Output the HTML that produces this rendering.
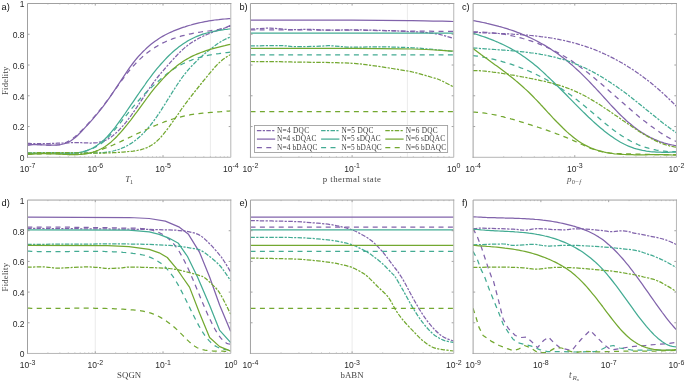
<!DOCTYPE html>
<html lang="en"><head><meta charset="utf-8"><title>Fidelity plots</title>
<style>html,body{margin:0;padding:0;background:#fff}body{width:685px;height:382px;overflow:hidden}svg{display:block}</style>
</head><body>
<svg width="685" height="382" viewBox="0 0 685 382">
<rect width="685" height="382" fill="#fff"/>
<g id="p0">
<line x1="210.40" y1="3.5" x2="210.40" y2="157.3" stroke="#e6e6e6" stroke-width="0.8"/>
<clipPath id="c0"><rect x="27.5" y="3.5" width="203.30" height="153.80"/></clipPath>
<g clip-path="url(#c0)" fill="none" stroke-width="1.25" stroke-linejoin="round">
<path d="M27.4,143.3 L29.4,143.4 L31.4,143.5 L33.4,143.6 L35.4,143.6 L37.4,143.6 L39.4,143.6 L41.4,143.6 L43.4,143.6 L45.3,143.6 L47.3,143.5 L49.3,143.5 L51.3,143.4 L53.3,143.3 L55.3,143.3 L57.3,143.2 L59.3,143.1 L61.3,143.0 L63.3,143.0 L65.3,142.9 L67.3,142.8 L69.3,142.8 L71.3,142.7 L73.3,142.7 L75.3,142.7 L77.3,142.7 L79.2,142.7 L81.2,142.7 L83.2,142.8 L85.2,142.9 L87.2,142.9 L89.2,143.0 L91.2,143.0 L93.2,142.9 L95.2,142.8 L97.2,142.6 L99.2,142.2 L101.2,141.8 L103.2,141.2 L105.2,140.4 L107.2,139.5 L109.2,138.3 L111.2,137.0 L113.1,135.5 L115.1,133.8 L117.1,132.0 L119.1,130.0 L121.1,127.9 L123.1,125.7 L125.1,123.3 L127.1,120.8 L129.1,118.2 L131.1,115.5 L133.1,112.7 L135.1,109.8 L137.1,106.9 L139.1,103.9 L141.1,100.9 L143.1,97.9 L145.1,94.8 L147.0,91.9 L149.0,88.9 L151.0,86.1 L153.0,83.3 L155.0,80.6 L157.0,78.0 L159.0,75.5 L161.0,73.1 L163.0,70.8 L165.0,68.5 L167.0,66.2 L169.0,64.0 L171.0,61.7 L173.0,59.5 L175.0,57.3 L177.0,55.2 L179.0,53.1 L180.9,51.2 L182.9,49.4 L184.9,47.6 L186.9,46.0 L188.9,44.5 L190.9,43.1 L192.9,41.8 L194.9,40.6 L196.9,39.4 L198.9,38.3 L200.9,37.3 L202.9,36.3 L204.9,35.4 L206.9,34.5 L208.9,33.7 L210.9,32.9 L212.9,32.2 L214.8,31.5 L216.8,30.7 L218.8,30.1 L220.8,29.4 L222.8,28.7 L224.8,28.0 L226.8,27.3 L228.8,26.6 L230.8,25.9" stroke="#8163ab" stroke-dasharray="4.5 1.35 2.2 1.35"/>
<path d="M27.4,145.1 L29.4,144.9 L31.4,144.7 L33.4,144.7 L35.4,144.7 L37.4,144.7 L39.4,144.7 L41.4,144.8 L43.4,144.9 L45.3,145.0 L47.3,145.1 L49.3,145.2 L51.3,145.2 L53.3,145.2 L55.3,145.1 L57.3,145.0 L59.3,144.8 L61.3,144.5 L63.3,144.0 L65.3,143.4 L67.3,142.7 L69.3,141.7 L71.3,140.5 L73.3,139.1 L75.3,137.5 L77.3,135.7 L79.2,133.7 L81.2,131.7 L83.2,129.6 L85.2,127.4 L87.2,125.3 L89.2,123.1 L91.2,120.9 L93.2,118.6 L95.2,116.2 L97.2,113.8 L99.2,111.4 L101.2,108.9 L103.2,106.3 L105.2,103.6 L107.2,100.9 L109.2,98.1 L111.2,95.2 L113.1,92.3 L115.1,89.4 L117.1,86.4 L119.1,83.4 L121.1,80.3 L123.1,77.3 L125.1,74.3 L127.1,71.3 L129.1,68.4 L131.1,65.6 L133.1,63.0 L135.1,60.4 L137.1,58.0 L139.1,55.7 L141.1,53.6 L143.1,51.5 L145.1,49.6 L147.0,47.7 L149.0,46.0 L151.0,44.3 L153.0,42.7 L155.0,41.3 L157.0,39.9 L159.0,38.5 L161.0,37.3 L163.0,36.1 L165.0,35.0 L167.0,34.0 L169.0,33.0 L171.0,32.1 L173.0,31.2 L175.0,30.4 L177.0,29.6 L179.0,28.8 L180.9,28.1 L182.9,27.4 L184.9,26.8 L186.9,26.1 L188.9,25.5 L190.9,25.0 L192.9,24.4 L194.9,23.9 L196.9,23.4 L198.9,22.9 L200.9,22.5 L202.9,22.1 L204.9,21.7 L206.9,21.3 L208.9,20.9 L210.9,20.6 L212.9,20.3 L214.8,20.0 L216.8,19.8 L218.8,19.6 L220.8,19.3 L222.8,19.1 L224.8,19.0 L226.8,18.8 L228.8,18.7 L230.8,18.6" stroke="#8163ab"/>
<path d="M27.4,145.1 L29.4,144.9 L31.4,144.7 L33.4,144.6 L35.4,144.6 L37.4,144.6 L39.4,144.7 L41.4,144.7 L43.4,144.9 L45.3,145.0 L47.3,145.1 L49.3,145.2 L51.3,145.2 L53.3,145.2 L55.3,145.1 L57.3,144.9 L59.3,144.6 L61.3,144.1 L63.3,143.5 L65.3,142.8 L67.3,141.9 L69.3,140.8 L71.3,139.5 L73.3,138.1 L75.3,136.5 L77.3,134.7 L79.2,132.9 L81.2,130.9 L83.2,128.9 L85.2,126.8 L87.2,124.7 L89.2,122.5 L91.2,120.3 L93.2,118.0 L95.2,115.7 L97.2,113.3 L99.2,110.8 L101.2,108.4 L103.2,105.8 L105.2,103.2 L107.2,100.6 L109.2,97.9 L111.2,95.1 L113.1,92.4 L115.1,89.6 L117.1,86.8 L119.1,84.1 L121.1,81.3 L123.1,78.6 L125.1,76.0 L127.1,73.4 L129.1,70.9 L131.1,68.5 L133.1,66.2 L135.1,64.1 L137.1,62.0 L139.1,60.0 L141.1,58.1 L143.1,56.3 L145.1,54.6 L147.0,53.0 L149.0,51.5 L151.0,50.0 L153.0,48.7 L155.0,47.4 L157.0,46.2 L159.0,45.0 L161.0,44.0 L163.0,42.9 L165.0,42.0 L167.0,41.1 L169.0,40.3 L171.0,39.5 L173.0,38.7 L175.0,38.0 L177.0,37.4 L179.0,36.8 L180.9,36.2 L182.9,35.7 L184.9,35.2 L186.9,34.7 L188.9,34.2 L190.9,33.8 L192.9,33.4 L194.9,33.0 L196.9,32.7 L198.9,32.3 L200.9,32.0 L202.9,31.7 L204.9,31.5 L206.9,31.2 L208.9,31.0 L210.9,30.7 L212.9,30.4 L214.8,30.1 L216.8,29.8 L218.8,29.4 L220.8,28.9 L222.8,28.4 L224.8,27.7 L226.8,27.0 L228.8,26.1 L230.8,25.1" stroke="#8163ab" stroke-dasharray="5 4.4"/>
<path d="M27.4,153.1 L29.4,153.1 L31.4,153.2 L33.4,153.2 L35.4,153.3 L37.4,153.3 L39.4,153.3 L41.4,153.3 L43.4,153.3 L45.3,153.3 L47.3,153.2 L49.3,153.2 L51.3,153.2 L53.3,153.2 L55.3,153.1 L57.3,153.1 L59.3,153.1 L61.3,153.0 L63.3,153.0 L65.3,153.0 L67.3,152.9 L69.3,152.9 L71.3,152.9 L73.3,152.9 L75.3,152.9 L77.3,152.8 L79.2,152.8 L81.2,152.9 L83.2,152.9 L85.2,152.9 L87.2,152.9 L89.2,152.9 L91.2,152.9 L93.2,152.9 L95.2,152.9 L97.2,152.9 L99.2,152.8 L101.2,152.7 L103.2,152.5 L105.2,152.3 L107.2,152.1 L109.2,151.8 L111.2,151.4 L113.1,151.0 L115.1,150.5 L117.1,149.9 L119.1,149.3 L121.1,148.5 L123.1,147.7 L125.1,146.8 L127.1,145.8 L129.1,144.6 L131.1,143.4 L133.1,142.1 L135.1,140.6 L137.1,139.0 L139.1,137.3 L141.1,135.5 L143.1,133.5 L145.1,131.4 L147.0,129.2 L149.0,126.9 L151.0,124.5 L153.0,121.9 L155.0,119.2 L157.0,116.4 L159.0,113.4 L161.0,110.4 L163.0,107.2 L165.0,104.1 L167.0,100.8 L169.0,97.6 L171.0,94.4 L173.0,91.2 L175.0,88.1 L177.0,85.0 L179.0,82.0 L180.9,79.2 L182.9,76.5 L184.9,73.9 L186.9,71.4 L188.9,69.1 L190.9,66.9 L192.9,64.8 L194.9,62.7 L196.9,60.8 L198.9,58.9 L200.9,57.1 L202.9,55.3 L204.9,53.6 L206.9,51.9 L208.9,50.3 L210.9,48.7 L212.9,47.2 L214.8,45.7 L216.8,44.3 L218.8,42.9 L220.8,41.7 L222.8,40.5 L224.8,39.5 L226.8,38.5 L228.8,37.7 L230.8,37.0" stroke="#43ab93" stroke-dasharray="4.5 1.35 2.2 1.35"/>
<path d="M27.4,153.3 L29.4,153.3 L31.4,153.3 L33.4,153.2 L35.4,153.2 L37.4,153.1 L39.4,153.1 L41.4,153.0 L43.4,153.0 L45.3,153.0 L47.3,152.9 L49.3,152.9 L51.3,152.9 L53.3,152.9 L55.3,152.9 L57.3,152.9 L59.3,153.0 L61.3,153.1 L63.3,153.1 L65.3,153.2 L67.3,153.2 L69.3,153.2 L71.3,153.2 L73.3,153.1 L75.3,153.0 L77.3,152.8 L79.2,152.5 L81.2,152.1 L83.2,151.7 L85.2,151.1 L87.2,150.4 L89.2,149.6 L91.2,148.7 L93.2,147.7 L95.2,146.5 L97.2,145.2 L99.2,143.8 L101.2,142.3 L103.2,140.6 L105.2,138.7 L107.2,136.7 L109.2,134.5 L111.2,132.2 L113.1,129.8 L115.1,127.3 L117.1,124.6 L119.1,121.9 L121.1,119.2 L123.1,116.3 L125.1,113.5 L127.1,110.5 L129.1,107.6 L131.1,104.7 L133.1,101.8 L135.1,98.8 L137.1,95.9 L139.1,93.0 L141.1,90.1 L143.1,87.3 L145.1,84.5 L147.0,81.7 L149.0,79.0 L151.0,76.3 L153.0,73.7 L155.0,71.2 L157.0,68.7 L159.0,66.3 L161.0,64.0 L163.0,61.8 L165.0,59.6 L167.0,57.5 L169.0,55.5 L171.0,53.6 L173.0,51.8 L175.0,50.1 L177.0,48.4 L179.0,46.8 L180.9,45.4 L182.9,44.0 L184.9,42.7 L186.9,41.4 L188.9,40.3 L190.9,39.2 L192.9,38.2 L194.9,37.3 L196.9,36.4 L198.9,35.6 L200.9,34.9 L202.9,34.2 L204.9,33.6 L206.9,33.0 L208.9,32.5 L210.9,32.0 L212.9,31.6 L214.8,31.1 L216.8,30.8 L218.8,30.4 L220.8,30.1 L222.8,29.8 L224.8,29.5 L226.8,29.3 L228.8,29.0 L230.8,28.8" stroke="#43ab93"/>
<path d="M27.4,153.1 L29.4,153.2 L31.4,153.3 L33.4,153.3 L35.4,153.3 L37.4,153.3 L39.4,153.2 L41.4,153.2 L43.4,153.2 L45.3,153.1 L47.3,153.1 L49.3,153.0 L51.3,153.0 L53.3,152.9 L55.3,152.9 L57.3,152.9 L59.3,152.9 L61.3,152.9 L63.3,153.0 L65.3,153.0 L67.3,153.0 L69.3,153.0 L71.3,153.0 L73.3,152.9 L75.3,152.8 L77.3,152.6 L79.2,152.4 L81.2,152.1 L83.2,151.7 L85.2,151.2 L87.2,150.6 L89.2,150.0 L91.2,149.2 L93.2,148.3 L95.2,147.3 L97.2,146.2 L99.2,144.9 L101.2,143.5 L103.2,141.9 L105.2,140.2 L107.2,138.3 L109.2,136.2 L111.2,134.0 L113.1,131.7 L115.1,129.3 L117.1,126.9 L119.1,124.3 L121.1,121.8 L123.1,119.3 L125.1,116.8 L127.1,114.3 L129.1,111.8 L131.1,109.3 L133.1,106.9 L135.1,104.6 L137.1,102.2 L139.1,100.0 L141.1,97.7 L143.1,95.6 L145.1,93.5 L147.0,91.5 L149.0,89.6 L151.0,87.7 L153.0,85.9 L155.0,84.1 L157.0,82.3 L159.0,80.6 L161.0,78.8 L163.0,77.1 L165.0,75.4 L167.0,73.8 L169.0,72.3 L171.0,70.8 L173.0,69.4 L175.0,68.1 L177.0,66.9 L179.0,65.8 L180.9,64.7 L182.9,63.7 L184.9,62.8 L186.9,61.9 L188.9,61.0 L190.9,60.3 L192.9,59.5 L194.9,58.9 L196.9,58.2 L198.9,57.6 L200.9,57.1 L202.9,56.6 L204.9,56.1 L206.9,55.6 L208.9,55.2 L210.9,54.8 L212.9,54.5 L214.8,54.2 L216.8,53.8 L218.8,53.6 L220.8,53.3 L222.8,53.0 L224.8,52.8 L226.8,52.6 L228.8,52.3 L230.8,52.1" stroke="#43ab93" stroke-dasharray="5 4.4"/>
<path d="M27.4,153.2 L29.4,153.1 L31.4,153.0 L33.4,152.9 L35.4,152.8 L37.4,152.7 L39.4,152.7 L41.4,152.6 L43.4,152.6 L45.3,152.6 L47.3,152.6 L49.3,152.5 L51.3,152.5 L53.3,152.6 L55.3,152.6 L57.3,152.6 L59.3,152.6 L61.3,152.6 L63.3,152.7 L65.3,152.7 L67.3,152.7 L69.3,152.8 L71.3,152.8 L73.3,152.8 L75.3,152.9 L77.3,152.9 L79.2,153.0 L81.2,153.0 L83.2,153.0 L85.2,153.0 L87.2,153.1 L89.2,153.1 L91.2,153.1 L93.2,153.1 L95.2,153.1 L97.2,153.1 L99.2,153.1 L101.2,153.1 L103.2,153.0 L105.2,153.0 L107.2,152.9 L109.2,152.9 L111.2,152.8 L113.1,152.7 L115.1,152.6 L117.1,152.5 L119.1,152.4 L121.1,152.2 L123.1,152.1 L125.1,151.9 L127.1,151.7 L129.1,151.5 L131.1,151.3 L133.1,151.1 L135.1,150.8 L137.1,150.5 L139.1,150.1 L141.1,149.6 L143.1,149.0 L145.1,148.4 L147.0,147.6 L149.0,146.6 L151.0,145.5 L153.0,144.2 L155.0,142.7 L157.0,141.0 L159.0,139.1 L161.0,137.0 L163.0,134.7 L165.0,132.2 L167.0,129.7 L169.0,127.0 L171.0,124.2 L173.0,121.4 L175.0,118.6 L177.0,115.7 L179.0,112.9 L180.9,110.0 L182.9,107.2 L184.9,104.5 L186.9,101.8 L188.9,99.2 L190.9,96.6 L192.9,94.0 L194.9,91.5 L196.9,89.0 L198.9,86.5 L200.9,84.0 L202.9,81.5 L204.9,79.1 L206.9,76.6 L208.9,74.2 L210.9,71.8 L212.9,69.5 L214.8,67.2 L216.8,65.1 L218.8,63.1 L220.8,61.3 L222.8,59.6 L224.8,58.1 L226.8,56.7 L228.8,55.5 L230.8,54.5" stroke="#73a830" stroke-dasharray="4.5 1.35 2.2 1.35"/>
<path d="M27.4,154.5 L29.4,154.3 L31.4,154.2 L33.4,154.1 L35.4,153.9 L37.4,153.9 L39.4,153.8 L41.4,153.7 L43.4,153.7 L45.3,153.7 L47.3,153.7 L49.3,153.7 L51.3,153.8 L53.3,153.8 L55.3,153.9 L57.3,154.0 L59.3,154.1 L61.3,154.2 L63.3,154.3 L65.3,154.4 L67.3,154.5 L69.3,154.5 L71.3,154.6 L73.3,154.6 L75.3,154.6 L77.3,154.6 L79.2,154.5 L81.2,154.4 L83.2,154.2 L85.2,153.9 L87.2,153.6 L89.2,153.2 L91.2,152.7 L93.2,152.2 L95.2,151.5 L97.2,150.7 L99.2,149.8 L101.2,148.8 L103.2,147.7 L105.2,146.5 L107.2,145.1 L109.2,143.5 L111.2,141.9 L113.1,140.1 L115.1,138.2 L117.1,136.2 L119.1,134.0 L121.1,131.8 L123.1,129.5 L125.1,127.1 L127.1,124.7 L129.1,122.1 L131.1,119.6 L133.1,116.9 L135.1,114.2 L137.1,111.6 L139.1,108.8 L141.1,106.1 L143.1,103.4 L145.1,100.7 L147.0,98.0 L149.0,95.3 L151.0,92.7 L153.0,90.2 L155.0,87.7 L157.0,85.3 L159.0,83.0 L161.0,80.8 L163.0,78.6 L165.0,76.5 L167.0,74.6 L169.0,72.6 L171.0,70.8 L173.0,69.1 L175.0,67.4 L177.0,65.8 L179.0,64.3 L180.9,62.9 L182.9,61.6 L184.9,60.3 L186.9,59.1 L188.9,58.0 L190.9,56.9 L192.9,55.9 L194.9,55.0 L196.9,54.1 L198.9,53.3 L200.9,52.5 L202.9,51.8 L204.9,51.1 L206.9,50.4 L208.9,49.8 L210.9,49.2 L212.9,48.6 L214.8,48.1 L216.8,47.6 L218.8,47.1 L220.8,46.6 L222.8,46.1 L224.8,45.7 L226.8,45.2 L228.8,44.7 L230.8,44.3" stroke="#73a830"/>
<path d="M27.4,154.4 L29.4,154.2 L31.4,154.2 L33.4,154.1 L35.4,154.0 L37.4,153.9 L39.4,153.9 L41.4,153.8 L43.3,153.8 L45.3,153.8 L47.3,153.8 L49.3,153.8 L51.3,153.8 L53.3,153.8 L55.3,153.9 L57.3,153.9 L59.3,154.0 L61.3,154.1 L63.3,154.2 L65.3,154.3 L67.3,154.4 L69.3,154.5 L71.2,154.5 L73.2,154.5 L75.2,154.5 L77.2,154.4 L79.2,154.3 L81.2,154.2 L83.2,154.0 L85.2,153.7 L87.2,153.4 L89.2,153.0 L91.2,152.5 L93.2,152.0 L95.2,151.5 L97.2,150.9 L99.2,150.3 L101.1,149.6 L103.1,148.9 L105.1,148.2 L107.1,147.4 L109.1,146.6 L111.1,145.8 L113.1,145.0 L115.1,144.1 L117.1,143.2 L119.1,142.3 L121.1,141.4 L123.1,140.4 L125.1,139.5 L127.1,138.6 L129.0,137.6 L131.0,136.7 L133.0,135.7 L135.0,134.7 L137.0,133.8 L139.0,132.9 L141.0,131.9 L143.0,131.0 L145.0,130.1 L147.0,129.2 L149.0,128.3 L151.0,127.4 L153.0,126.5 L155.0,125.7 L157.0,124.8 L158.9,124.0 L160.9,123.2 L162.9,122.5 L164.9,121.7 L166.9,121.0 L168.9,120.3 L170.9,119.6 L172.9,119.0 L174.9,118.4 L176.9,117.8 L178.9,117.3 L180.9,116.8 L182.9,116.3 L184.9,115.8 L186.9,115.4 L188.8,115.1 L190.8,114.7 L192.8,114.4 L194.8,114.1 L196.8,113.8 L198.8,113.6 L200.8,113.3 L202.8,113.1 L204.8,112.9 L206.8,112.8 L208.8,112.6 L210.8,112.4 L212.8,112.3 L214.8,112.1 L216.7,112.0 L218.7,111.8 L220.7,111.7 L222.7,111.5 L224.7,111.4 L226.7,111.2 L228.7,111.1 L230.7,110.9" stroke="#73a830" stroke-dasharray="5 4.4"/>
</g>
<path d="M95.27,157.3 v-2.1 M95.27,3.5 v2.1 M163.03,157.3 v-2.1 M163.03,3.5 v2.1 M27.5,126.54 h2.1 M230.8,126.54 h-2.1 M27.5,95.78 h2.1 M230.8,95.78 h-2.1 M27.5,65.02 h2.1 M230.8,65.02 h-2.1 M27.5,34.26 h2.1 M230.8,34.26 h-2.1" stroke="#8c8c8c" stroke-width="0.8" fill="none"/>
<path d="M47.90,157.3 v-1.1 M47.90,3.5 v1.1 M59.83,157.3 v-1.1 M59.83,3.5 v1.1 M68.30,157.3 v-1.1 M68.30,3.5 v1.1 M74.87,157.3 v-1.1 M74.87,3.5 v1.1 M80.23,157.3 v-1.1 M80.23,3.5 v1.1 M84.77,157.3 v-1.1 M84.77,3.5 v1.1 M88.70,157.3 v-1.1 M88.70,3.5 v1.1 M92.17,157.3 v-1.1 M92.17,3.5 v1.1 M115.67,157.3 v-1.1 M115.67,3.5 v1.1 M127.60,157.3 v-1.1 M127.60,3.5 v1.1 M136.07,157.3 v-1.1 M136.07,3.5 v1.1 M142.63,157.3 v-1.1 M142.63,3.5 v1.1 M148.00,157.3 v-1.1 M148.00,3.5 v1.1 M152.54,157.3 v-1.1 M152.54,3.5 v1.1 M156.47,157.3 v-1.1 M156.47,3.5 v1.1 M159.93,157.3 v-1.1 M159.93,3.5 v1.1 M183.43,157.3 v-1.1 M183.43,3.5 v1.1 M195.37,157.3 v-1.1 M195.37,3.5 v1.1 M203.83,157.3 v-1.1 M203.83,3.5 v1.1 M210.40,157.3 v-1.1 M210.40,3.5 v1.1 M215.77,157.3 v-1.1 M215.77,3.5 v1.1 M220.30,157.3 v-1.1 M220.30,3.5 v1.1 M224.23,157.3 v-1.1 M224.23,3.5 v1.1 M227.70,157.3 v-1.1 M227.70,3.5 v1.1" stroke="#a4a4a4" stroke-width="0.6" fill="none"/>
<path d="M230.8,3.5 V157.3 H27.5" fill="none" stroke="#b6b6b6" stroke-width="1" stroke-linecap="square"/>
<path d="M27.5,157.3 V3.5 H230.8" fill="none" stroke="#a0a0a0" stroke-width="1" stroke-linecap="square"/>
<text x="19.66" y="172.30" font-family="'Liberation Sans',Arial,Helvetica,sans-serif" font-size="8.5" fill="#2a2a2a">10<tspan dy="-3.9" font-size="7">-7</tspan></text>
<text x="87.43" y="172.30" font-family="'Liberation Sans',Arial,Helvetica,sans-serif" font-size="8.5" fill="#2a2a2a">10<tspan dy="-3.9" font-size="7">-6</tspan></text>
<text x="155.20" y="172.30" font-family="'Liberation Sans',Arial,Helvetica,sans-serif" font-size="8.5" fill="#2a2a2a">10<tspan dy="-3.9" font-size="7">-5</tspan></text>
<text x="222.96" y="172.30" font-family="'Liberation Sans',Arial,Helvetica,sans-serif" font-size="8.5" fill="#2a2a2a">10<tspan dy="-3.9" font-size="7">-4</tspan></text>
<text x="24.5" y="161.15" text-anchor="end" font-family="'Liberation Sans',Arial,Helvetica,sans-serif" font-size="8.5" fill="#2a2a2a">0</text>
<text x="24.5" y="130.39" text-anchor="end" font-family="'Liberation Sans',Arial,Helvetica,sans-serif" font-size="8.5" fill="#2a2a2a">0.2</text>
<text x="24.5" y="99.63" text-anchor="end" font-family="'Liberation Sans',Arial,Helvetica,sans-serif" font-size="8.5" fill="#2a2a2a">0.4</text>
<text x="24.5" y="68.87" text-anchor="end" font-family="'Liberation Sans',Arial,Helvetica,sans-serif" font-size="8.5" fill="#2a2a2a">0.6</text>
<text x="24.5" y="38.11" text-anchor="end" font-family="'Liberation Sans',Arial,Helvetica,sans-serif" font-size="8.5" fill="#2a2a2a">0.8</text>
<text x="24.5" y="7.35" text-anchor="end" font-family="'Liberation Sans',Arial,Helvetica,sans-serif" font-size="8.5" fill="#2a2a2a">1</text>
<text transform="translate(7.8,80.70) rotate(-90)" text-anchor="middle" font-family="'Liberation Serif','Times New Roman',serif" font-size="8.8" letter-spacing="0.16" fill="#444">Fidelity</text>
<text x="1.6" y="9.55" font-family="'Liberation Sans',Arial,Helvetica,sans-serif" font-size="9.2" fill="#111">a)</text>
<text x="125.25" y="182.00" font-family="'Liberation Serif','Times New Roman',serif" font-size="8.8" font-style="italic" fill="#444">T<tspan dx="-0.2" dy="2" font-size="6" font-style="normal">1</tspan></text>
</g>
<g id="p1">
<line x1="407.40" y1="3.5" x2="407.40" y2="157.3" stroke="#e6e6e6" stroke-width="0.8"/>
<clipPath id="c1"><rect x="250.45" y="3.5" width="203.30" height="153.80"/></clipPath>
<g clip-path="url(#c1)" fill="none" stroke-width="1.25" stroke-linejoin="round">
<path d="M250.5,29.2 C253.8,29.0 263.4,28.1 270.0,28.2 C276.6,28.3 283.3,29.4 290.0,29.6 C296.7,29.8 303.3,29.3 310.0,29.4 C316.7,29.5 323.0,30.1 330.0,30.2 C337.0,30.3 343.7,29.8 352.0,29.8 C360.3,29.8 371.6,30.2 380.0,30.4 C388.4,30.6 393.6,30.7 402.4,31.2 C411.2,31.7 424.1,32.0 432.6,33.2 C441.2,34.4 450.2,37.4 453.7,38.3" stroke="#8163ab" stroke-dasharray="4.5 1.35 2.2 1.35"/>
<path d="M250.5,20.1 C267.4,20.1 325.1,20.0 352.0,20.1 C378.9,20.2 395.1,20.4 412.0,20.6 C428.9,20.8 446.8,21.4 453.7,21.5" stroke="#8163ab"/>
<path d="M250.5,29.8 C267.4,29.9 327.1,30.0 352.0,30.2 C376.9,30.4 383.1,30.8 400.0,31.0 C416.9,31.2 444.8,31.3 453.7,31.4" stroke="#8163ab" stroke-dasharray="5 4.4"/>
<path d="M250.5,45.9 C255.4,45.9 272.6,45.5 280.0,45.6 C287.4,45.7 288.3,46.5 295.0,46.6 C301.7,46.7 314.2,46.4 320.0,46.2 C325.8,46.1 324.7,45.5 330.0,45.7 C335.3,45.9 343.7,47.0 352.0,47.2 C360.3,47.4 369.9,46.7 380.0,46.8 C390.1,46.9 404.2,47.4 412.5,47.8 C420.8,48.2 423.1,48.6 430.0,49.2 C436.9,49.8 449.8,51.0 453.7,51.4" stroke="#43ab93" stroke-dasharray="4.5 1.35 2.2 1.35"/>
<path d="M250.5,33.2 L453.7,33.2" stroke="#43ab93"/>
<path d="M250.5,54.8 L453.7,54.8" stroke="#43ab93" stroke-dasharray="5 4.4"/>
<path d="M250.5,61.5 C255.4,61.5 271.8,61.6 280.0,61.7 C288.2,61.8 292.5,62.1 300.0,62.2 C307.5,62.3 316.3,62.2 325.0,62.4 C333.7,62.6 344.1,62.8 352.0,63.3 C359.9,63.8 365.5,64.6 372.2,65.5 C378.9,66.4 385.6,67.4 392.3,68.5 C399.0,69.6 405.8,70.5 412.5,72.0 C419.2,73.5 428.0,76.3 432.6,77.6 C437.2,78.9 436.5,78.4 440.0,80.0 C443.5,81.6 451.4,85.8 453.7,87.0" stroke="#73a830" stroke-dasharray="4.5 1.35 2.2 1.35"/>
<path d="M250.5,48.4 C267.4,48.4 325.0,48.3 352.0,48.4 C379.0,48.5 395.6,48.6 412.5,49.0 C429.4,49.4 446.8,50.7 453.7,51.0" stroke="#73a830"/>
<path d="M250.5,111.7 L453.7,111.7" stroke="#73a830" stroke-dasharray="5 4.4"/>
</g>
<path d="M352.10,157.3 v-2.1 M352.10,3.5 v2.1 M250.45,126.54 h2.1 M453.75,126.54 h-2.1 M250.45,95.78 h2.1 M453.75,95.78 h-2.1 M250.45,65.02 h2.1 M453.75,65.02 h-2.1 M250.45,34.26 h2.1 M453.75,34.26 h-2.1" stroke="#8c8c8c" stroke-width="0.8" fill="none"/>
<path d="M281.05,157.3 v-1.1 M281.05,3.5 v1.1 M298.95,157.3 v-1.1 M298.95,3.5 v1.1 M311.65,157.3 v-1.1 M311.65,3.5 v1.1 M321.50,157.3 v-1.1 M321.50,3.5 v1.1 M329.55,157.3 v-1.1 M329.55,3.5 v1.1 M336.35,157.3 v-1.1 M336.35,3.5 v1.1 M342.25,157.3 v-1.1 M342.25,3.5 v1.1 M347.45,157.3 v-1.1 M347.45,3.5 v1.1 M382.70,157.3 v-1.1 M382.70,3.5 v1.1 M400.60,157.3 v-1.1 M400.60,3.5 v1.1 M413.30,157.3 v-1.1 M413.30,3.5 v1.1 M423.15,157.3 v-1.1 M423.15,3.5 v1.1 M431.20,157.3 v-1.1 M431.20,3.5 v1.1 M438.00,157.3 v-1.1 M438.00,3.5 v1.1 M443.90,157.3 v-1.1 M443.90,3.5 v1.1 M449.10,157.3 v-1.1 M449.10,3.5 v1.1" stroke="#a4a4a4" stroke-width="0.6" fill="none"/>
<path d="M453.75,3.5 V157.3 H250.45" fill="none" stroke="#b6b6b6" stroke-width="1" stroke-linecap="square"/>
<path d="M250.45,157.3 V3.5 H453.75" fill="none" stroke="#a0a0a0" stroke-width="1" stroke-linecap="square"/>
<text x="242.61" y="172.30" font-family="'Liberation Sans',Arial,Helvetica,sans-serif" font-size="8.5" fill="#2a2a2a">10<tspan dy="-3.9" font-size="7">-2</tspan></text>
<text x="344.26" y="172.30" font-family="'Liberation Sans',Arial,Helvetica,sans-serif" font-size="8.5" fill="#2a2a2a">10<tspan dy="-3.9" font-size="7">-1</tspan></text>
<text x="447.08" y="172.30" font-family="'Liberation Sans',Arial,Helvetica,sans-serif" font-size="8.5" fill="#2a2a2a">10<tspan dy="-3.9" font-size="7">0</tspan></text>
<text x="239.5" y="9.55" font-family="'Liberation Sans',Arial,Helvetica,sans-serif" font-size="9.2" fill="#111">b)</text>
<text x="352.10" y="182.00" text-anchor="middle" font-family="'Liberation Serif','Times New Roman',serif" font-size="8.8" letter-spacing="0.46" fill="#444">p thermal state</text>
</g>
<g id="p2">
<clipPath id="c2"><rect x="473.1" y="3.5" width="203.35" height="153.80"/></clipPath>
<g clip-path="url(#c2)" fill="none" stroke-width="1.25" stroke-linejoin="round">
<path d="M473.0,32.3 L475.0,32.4 L477.0,32.5 L479.0,32.6 L481.0,32.7 L483.0,32.8 L485.0,32.9 L487.0,33.0 L489.0,33.0 L490.9,33.1 L492.9,33.2 L494.9,33.3 L496.9,33.4 L498.9,33.5 L500.9,33.6 L502.9,33.6 L504.9,33.7 L506.9,33.8 L508.9,33.9 L510.9,34.0 L512.9,34.2 L514.9,34.3 L516.9,34.4 L518.9,34.5 L520.9,34.7 L522.9,34.8 L524.8,35.0 L526.8,35.1 L528.8,35.3 L530.8,35.5 L532.8,35.7 L534.8,35.9 L536.8,36.1 L538.8,36.3 L540.8,36.6 L542.8,36.8 L544.8,37.1 L546.8,37.4 L548.8,37.7 L550.8,38.0 L552.8,38.3 L554.8,38.7 L556.8,39.0 L558.7,39.4 L560.7,39.8 L562.7,40.2 L564.7,40.6 L566.7,41.1 L568.7,41.6 L570.7,42.1 L572.7,42.6 L574.7,43.1 L576.7,43.7 L578.7,44.3 L580.7,44.9 L582.7,45.5 L584.7,46.1 L586.7,46.8 L588.7,47.5 L590.7,48.2 L592.6,49.0 L594.6,49.7 L596.6,50.5 L598.6,51.4 L600.6,52.2 L602.6,53.1 L604.6,54.0 L606.6,54.9 L608.6,55.9 L610.6,56.9 L612.6,57.9 L614.6,58.9 L616.6,60.0 L618.6,61.1 L620.6,62.2 L622.6,63.3 L624.6,64.5 L626.5,65.7 L628.5,67.0 L630.5,68.2 L632.5,69.5 L634.5,70.8 L636.5,72.2 L638.5,73.6 L640.5,75.0 L642.5,76.5 L644.5,78.0 L646.5,79.5 L648.5,81.0 L650.5,82.6 L652.5,84.2 L654.5,85.9 L656.5,87.6 L658.5,89.3 L660.4,91.0 L662.4,92.8 L664.4,94.6 L666.4,96.5 L668.4,98.4 L670.4,100.3 L672.4,102.3 L674.4,104.3 L676.4,106.3" stroke="#8163ab" stroke-dasharray="4.5 1.35 2.2 1.35"/>
<path d="M473.0,20.6 L475.0,20.9 L477.0,21.3 L479.0,21.7 L481.0,22.1 L483.0,22.5 L485.0,22.9 L487.0,23.4 L488.9,23.8 L490.9,24.3 L492.9,24.8 L494.9,25.3 L496.9,25.8 L498.9,26.4 L500.9,26.9 L502.9,27.5 L504.9,28.1 L506.9,28.7 L508.9,29.4 L510.9,30.0 L512.9,30.7 L514.9,31.4 L516.8,32.2 L518.8,32.9 L520.8,33.7 L522.8,34.5 L524.8,35.4 L526.8,36.2 L528.8,37.1 L530.8,38.0 L532.8,39.0 L534.8,40.0 L536.8,41.0 L538.8,42.1 L540.8,43.2 L542.8,44.3 L544.8,45.4 L546.7,46.6 L548.7,47.8 L550.7,49.1 L552.7,50.4 L554.7,51.7 L556.7,53.1 L558.7,54.5 L560.7,56.0 L562.7,57.5 L564.7,59.0 L566.7,60.6 L568.7,62.2 L570.7,63.9 L572.7,65.6 L574.6,67.4 L576.6,69.2 L578.6,71.0 L580.6,72.9 L582.6,74.9 L584.6,76.9 L586.6,78.9 L588.6,80.9 L590.6,83.0 L592.6,85.1 L594.6,87.2 L596.6,89.4 L598.6,91.5 L600.6,93.7 L602.6,95.9 L604.5,98.0 L606.5,100.2 L608.5,102.4 L610.5,104.6 L612.5,106.7 L614.5,108.8 L616.5,110.9 L618.5,113.0 L620.5,115.0 L622.5,116.9 L624.5,118.8 L626.5,120.7 L628.5,122.4 L630.5,124.1 L632.5,125.8 L634.4,127.3 L636.4,128.8 L638.4,130.3 L640.4,131.6 L642.4,132.9 L644.4,134.1 L646.4,135.3 L648.4,136.4 L650.4,137.5 L652.4,138.4 L654.4,139.4 L656.4,140.2 L658.4,141.0 L660.4,141.8 L662.3,142.4 L664.3,143.1 L666.3,143.6 L668.3,144.2 L670.3,144.6 L672.3,145.0 L674.3,145.4 L676.3,145.7" stroke="#8163ab"/>
<path d="M473.0,31.9 L475.0,31.9 L477.0,31.9 L479.0,32.0 L481.0,32.1 L483.0,32.2 L485.0,32.3 L487.0,32.4 L488.9,32.5 L490.9,32.7 L492.9,32.9 L494.9,33.1 L496.9,33.3 L498.9,33.6 L500.9,33.9 L502.9,34.2 L504.9,34.5 L506.9,34.8 L508.9,35.2 L510.9,35.6 L512.9,36.0 L514.9,36.5 L516.8,36.9 L518.8,37.4 L520.8,37.9 L522.8,38.5 L524.8,39.0 L526.8,39.6 L528.8,40.3 L530.8,40.9 L532.8,41.6 L534.8,42.3 L536.8,43.0 L538.8,43.8 L540.8,44.6 L542.8,45.4 L544.8,46.3 L546.7,47.1 L548.7,48.1 L550.7,49.0 L552.7,50.0 L554.7,51.0 L556.7,52.0 L558.7,53.1 L560.7,54.2 L562.7,55.4 L564.7,56.5 L566.7,57.7 L568.7,59.0 L570.7,60.3 L572.7,61.6 L574.6,62.9 L576.6,64.3 L578.6,65.7 L580.6,67.2 L582.6,68.7 L584.6,70.2 L586.6,71.8 L588.6,73.3 L590.6,74.9 L592.6,76.6 L594.6,78.2 L596.6,79.9 L598.6,81.6 L600.6,83.3 L602.6,85.0 L604.5,86.7 L606.5,88.5 L608.5,90.2 L610.5,92.0 L612.5,93.7 L614.5,95.5 L616.5,97.3 L618.5,99.0 L620.5,100.8 L622.5,102.6 L624.5,104.3 L626.5,106.1 L628.5,107.8 L630.5,109.5 L632.5,111.2 L634.4,112.9 L636.4,114.6 L638.4,116.2 L640.4,117.9 L642.4,119.5 L644.4,121.1 L646.4,122.6 L648.4,124.2 L650.4,125.7 L652.4,127.1 L654.4,128.6 L656.4,130.0 L658.4,131.3 L660.4,132.7 L662.3,133.9 L664.3,135.2 L666.3,136.4 L668.3,137.5 L670.3,138.6 L672.3,139.6 L674.3,140.6 L676.3,141.5" stroke="#8163ab" stroke-dasharray="5 4.4"/>
<path d="M473.0,47.9 L475.0,48.1 L477.0,48.2 L479.0,48.4 L481.0,48.6 L483.0,48.7 L485.0,48.9 L487.0,49.0 L488.9,49.1 L490.9,49.3 L492.9,49.4 L494.9,49.5 L496.9,49.7 L498.9,49.8 L500.9,49.9 L502.9,50.1 L504.9,50.2 L506.9,50.4 L508.9,50.5 L510.9,50.7 L512.9,50.9 L514.9,51.0 L516.8,51.2 L518.8,51.4 L520.8,51.6 L522.8,51.8 L524.8,52.0 L526.8,52.3 L528.8,52.5 L530.8,52.8 L532.8,53.0 L534.8,53.3 L536.8,53.6 L538.8,53.9 L540.8,54.3 L542.8,54.6 L544.8,55.0 L546.7,55.4 L548.7,55.8 L550.7,56.3 L552.7,56.7 L554.7,57.2 L556.7,57.7 L558.7,58.3 L560.7,58.8 L562.7,59.4 L564.7,60.0 L566.7,60.7 L568.7,61.3 L570.7,62.0 L572.7,62.8 L574.6,63.5 L576.6,64.3 L578.6,65.1 L580.6,66.0 L582.6,66.9 L584.6,67.8 L586.6,68.8 L588.6,69.8 L590.6,70.8 L592.6,71.8 L594.6,72.9 L596.6,74.0 L598.6,75.1 L600.6,76.3 L602.6,77.5 L604.5,78.7 L606.5,80.0 L608.5,81.2 L610.5,82.5 L612.5,83.9 L614.5,85.2 L616.5,86.6 L618.5,88.0 L620.5,89.4 L622.5,90.9 L624.5,92.3 L626.5,93.8 L628.5,95.3 L630.5,96.9 L632.5,98.4 L634.4,100.0 L636.4,101.6 L638.4,103.2 L640.4,104.8 L642.4,106.4 L644.4,108.0 L646.4,109.7 L648.4,111.3 L650.4,112.9 L652.4,114.5 L654.4,116.1 L656.4,117.7 L658.4,119.3 L660.4,120.9 L662.3,122.5 L664.3,124.0 L666.3,125.5 L668.3,127.0 L670.3,128.5 L672.3,129.9 L674.3,131.4 L676.3,132.7" stroke="#43ab93" stroke-dasharray="4.5 1.35 2.2 1.35"/>
<path d="M473.0,33.3 L475.0,33.9 L477.0,34.5 L479.0,35.2 L481.0,35.8 L483.0,36.5 L485.0,37.2 L487.0,37.9 L488.9,38.7 L490.9,39.4 L492.9,40.2 L494.9,41.0 L496.9,41.8 L498.9,42.7 L500.9,43.6 L502.9,44.5 L504.9,45.5 L506.9,46.5 L508.9,47.5 L510.9,48.6 L512.9,49.7 L514.9,50.8 L516.8,52.0 L518.8,53.3 L520.8,54.5 L522.8,55.9 L524.8,57.3 L526.8,58.7 L528.8,60.2 L530.8,61.7 L532.8,63.3 L534.8,64.9 L536.8,66.6 L538.8,68.3 L540.8,70.1 L542.8,71.9 L544.8,73.7 L546.7,75.6 L548.7,77.5 L550.7,79.4 L552.7,81.3 L554.7,83.3 L556.7,85.3 L558.7,87.3 L560.7,89.3 L562.7,91.3 L564.7,93.3 L566.7,95.3 L568.7,97.4 L570.7,99.4 L572.7,101.4 L574.6,103.4 L576.6,105.4 L578.6,107.4 L580.6,109.4 L582.6,111.4 L584.6,113.3 L586.6,115.3 L588.6,117.2 L590.6,119.0 L592.6,120.9 L594.6,122.7 L596.6,124.5 L598.6,126.2 L600.6,127.9 L602.6,129.6 L604.5,131.2 L606.5,132.7 L608.5,134.3 L610.5,135.7 L612.5,137.1 L614.5,138.5 L616.5,139.8 L618.5,141.0 L620.5,142.2 L622.5,143.2 L624.5,144.3 L626.5,145.2 L628.5,146.1 L630.5,146.9 L632.5,147.6 L634.4,148.3 L636.4,148.9 L638.4,149.4 L640.4,149.9 L642.4,150.4 L644.4,150.7 L646.4,151.1 L648.4,151.3 L650.4,151.6 L652.4,151.8 L654.4,151.9 L656.4,152.1 L658.4,152.2 L660.4,152.2 L662.3,152.3 L664.3,152.3 L666.3,152.3 L668.3,152.3 L670.3,152.2 L672.3,152.2 L674.3,152.2 L676.3,152.1" stroke="#43ab93"/>
<path d="M473.0,55.5 L475.0,55.8 L477.0,56.1 L479.0,56.4 L481.0,56.7 L483.0,57.1 L485.0,57.5 L487.0,57.9 L488.9,58.3 L490.9,58.7 L492.9,59.2 L494.9,59.7 L496.9,60.2 L498.9,60.7 L500.9,61.2 L502.9,61.8 L504.9,62.4 L506.9,62.9 L508.9,63.6 L510.9,64.2 L512.9,64.9 L514.9,65.6 L516.8,66.3 L518.8,67.0 L520.8,67.8 L522.8,68.5 L524.8,69.3 L526.8,70.2 L528.8,71.0 L530.8,71.9 L532.8,72.8 L534.8,73.7 L536.8,74.7 L538.8,75.7 L540.8,76.7 L542.8,77.7 L544.8,78.8 L546.7,79.8 L548.7,81.0 L550.7,82.1 L552.7,83.3 L554.7,84.5 L556.7,85.7 L558.7,87.0 L560.7,88.2 L562.7,89.6 L564.7,90.9 L566.7,92.3 L568.7,93.7 L570.7,95.1 L572.7,96.6 L574.6,98.1 L576.6,99.6 L578.6,101.2 L580.6,102.8 L582.6,104.4 L584.6,106.0 L586.6,107.7 L588.6,109.4 L590.6,111.1 L592.6,112.7 L594.6,114.4 L596.6,116.1 L598.6,117.8 L600.6,119.5 L602.6,121.2 L604.5,122.8 L606.5,124.4 L608.5,126.0 L610.5,127.6 L612.5,129.2 L614.5,130.7 L616.5,132.1 L618.5,133.6 L620.5,134.9 L622.5,136.3 L624.5,137.5 L626.5,138.8 L628.5,139.9 L630.5,141.0 L632.5,142.0 L634.4,143.0 L636.4,143.9 L638.4,144.8 L640.4,145.6 L642.4,146.3 L644.4,147.0 L646.4,147.6 L648.4,148.2 L650.4,148.8 L652.4,149.3 L654.4,149.7 L656.4,150.1 L658.4,150.4 L660.4,150.8 L662.3,151.0 L664.3,151.2 L666.3,151.4 L668.3,151.6 L670.3,151.7 L672.3,151.7 L674.3,151.7 L676.3,151.7" stroke="#43ab93" stroke-dasharray="5 4.4"/>
<path d="M473.0,70.5 L475.0,70.5 L477.0,70.6 L479.0,70.7 L481.0,70.9 L483.0,71.0 L485.0,71.2 L487.0,71.4 L488.9,71.6 L490.9,71.8 L492.9,72.1 L494.9,72.3 L496.9,72.6 L498.9,72.9 L500.9,73.2 L502.9,73.5 L504.9,73.8 L506.9,74.1 L508.9,74.4 L510.9,74.8 L512.9,75.1 L514.9,75.5 L516.8,75.9 L518.8,76.2 L520.8,76.6 L522.8,77.0 L524.8,77.4 L526.8,77.7 L528.8,78.1 L530.8,78.5 L532.8,78.9 L534.8,79.3 L536.8,79.7 L538.8,80.1 L540.8,80.6 L542.8,81.0 L544.8,81.4 L546.7,81.9 L548.7,82.4 L550.7,82.9 L552.7,83.4 L554.7,84.0 L556.7,84.5 L558.7,85.1 L560.7,85.7 L562.7,86.4 L564.7,87.1 L566.7,87.8 L568.7,88.5 L570.7,89.3 L572.7,90.1 L574.6,91.0 L576.6,91.9 L578.6,92.8 L580.6,93.8 L582.6,94.8 L584.6,95.8 L586.6,96.9 L588.6,98.0 L590.6,99.2 L592.6,100.4 L594.6,101.6 L596.6,102.8 L598.6,104.0 L600.6,105.3 L602.6,106.6 L604.5,107.9 L606.5,109.2 L608.5,110.6 L610.5,111.9 L612.5,113.3 L614.5,114.7 L616.5,116.0 L618.5,117.4 L620.5,118.8 L622.5,120.2 L624.5,121.5 L626.5,122.9 L628.5,124.3 L630.5,125.6 L632.5,127.0 L634.4,128.3 L636.4,129.6 L638.4,130.9 L640.4,132.2 L642.4,133.4 L644.4,134.6 L646.4,135.8 L648.4,136.9 L650.4,138.0 L652.4,139.1 L654.4,140.1 L656.4,141.1 L658.4,142.0 L660.4,142.8 L662.3,143.6 L664.3,144.3 L666.3,145.0 L668.3,145.5 L670.3,146.1 L672.3,146.5 L674.3,146.9 L676.3,147.1" stroke="#73a830" stroke-dasharray="4.5 1.35 2.2 1.35"/>
<path d="M473.0,48.5 L475.0,50.0 L477.0,51.5 L479.0,53.0 L481.0,54.5 L483.0,55.9 L485.0,57.4 L487.0,58.8 L488.9,60.3 L490.9,61.8 L492.9,63.2 L494.9,64.7 L496.9,66.1 L498.9,67.6 L500.9,69.1 L502.9,70.6 L504.9,72.1 L506.9,73.6 L508.9,75.2 L510.9,76.7 L512.9,78.3 L514.9,79.9 L516.8,81.6 L518.8,83.3 L520.8,85.0 L522.8,86.7 L524.8,88.6 L526.8,90.4 L528.8,92.3 L530.8,94.3 L532.8,96.3 L534.8,98.4 L536.8,100.4 L538.8,102.5 L540.8,104.7 L542.8,106.8 L544.8,109.0 L546.7,111.1 L548.7,113.3 L550.7,115.4 L552.7,117.6 L554.7,119.7 L556.7,121.8 L558.7,123.8 L560.7,125.8 L562.7,127.8 L564.7,129.7 L566.7,131.6 L568.7,133.4 L570.7,135.1 L572.7,136.7 L574.6,138.3 L576.6,139.8 L578.6,141.2 L580.6,142.5 L582.6,143.7 L584.6,144.9 L586.6,145.9 L588.6,146.9 L590.6,147.8 L592.6,148.6 L594.6,149.3 L596.6,150.0 L598.6,150.7 L600.6,151.2 L602.6,151.7 L604.5,152.2 L606.5,152.6 L608.5,152.9 L610.5,153.3 L612.5,153.5 L614.5,153.8 L616.5,154.0 L618.5,154.1 L620.5,154.3 L622.5,154.4 L624.5,154.5 L626.5,154.6 L628.5,154.6 L630.5,154.7 L632.5,154.7 L634.4,154.8 L636.4,154.8 L638.4,154.8 L640.4,154.8 L642.4,154.8 L644.4,154.8 L646.4,154.8 L648.4,154.7 L650.4,154.7 L652.4,154.7 L654.4,154.7 L656.4,154.7 L658.4,154.7 L660.4,154.7 L662.3,154.7 L664.3,154.8 L666.3,154.8 L668.3,154.9 L670.3,154.9 L672.3,155.0 L674.3,155.1 L676.3,155.2" stroke="#73a830"/>
<path d="M473.0,112.1 L475.0,112.2 L477.0,112.3 L479.0,112.5 L481.0,112.7 L483.0,112.9 L485.0,113.2 L487.0,113.5 L488.9,113.8 L490.9,114.2 L492.9,114.5 L494.9,114.9 L496.9,115.3 L498.9,115.8 L500.9,116.3 L502.9,116.7 L504.9,117.3 L506.9,117.8 L508.9,118.3 L510.9,118.9 L512.9,119.4 L514.9,120.0 L516.8,120.6 L518.8,121.2 L520.8,121.8 L522.8,122.4 L524.8,123.0 L526.8,123.7 L528.8,124.3 L530.8,124.9 L532.8,125.6 L534.8,126.2 L536.8,126.8 L538.8,127.5 L540.8,128.2 L542.8,128.8 L544.8,129.5 L546.7,130.2 L548.7,130.9 L550.7,131.6 L552.7,132.3 L554.7,133.0 L556.7,133.8 L558.7,134.5 L560.7,135.3 L562.7,136.1 L564.7,136.9 L566.7,137.7 L568.7,138.5 L570.7,139.3 L572.7,140.2 L574.6,141.1 L576.6,142.0 L578.6,142.9 L580.6,143.8 L582.6,144.8 L584.6,145.7 L586.6,146.6 L588.6,147.5 L590.6,148.3 L592.6,149.0 L594.6,149.7 L596.6,150.4 L598.6,150.9 L600.6,151.4 L602.6,151.9 L604.5,152.2 L606.5,152.6 L608.5,152.8 L610.5,153.0 L612.5,153.2 L614.5,153.4 L616.5,153.5 L618.5,153.6 L620.5,153.6 L622.5,153.7 L624.5,153.7 L626.5,153.8 L628.5,153.8 L630.5,153.9 L632.5,153.9 L634.4,154.0 L636.4,154.0 L638.4,154.1 L640.4,154.1 L642.4,154.2 L644.4,154.3 L646.4,154.3 L648.4,154.4 L650.4,154.4 L652.4,154.5 L654.4,154.5 L656.4,154.6 L658.4,154.6 L660.4,154.6 L662.3,154.6 L664.3,154.6 L666.3,154.6 L668.3,154.6 L670.3,154.6 L672.3,154.6 L674.3,154.6 L676.3,154.5" stroke="#73a830" stroke-dasharray="5 4.4"/>
</g>
<path d="M574.78,157.3 v-2.1 M574.78,3.5 v2.1 M473.1,126.54 h2.1 M676.45,126.54 h-2.1 M473.1,95.78 h2.1 M676.45,95.78 h-2.1 M473.1,65.02 h2.1 M676.45,65.02 h-2.1 M473.1,34.26 h2.1 M676.45,34.26 h-2.1" stroke="#8c8c8c" stroke-width="0.8" fill="none"/>
<path d="M503.71,157.3 v-1.1 M503.71,3.5 v1.1 M521.61,157.3 v-1.1 M521.61,3.5 v1.1 M534.31,157.3 v-1.1 M534.31,3.5 v1.1 M544.17,157.3 v-1.1 M544.17,3.5 v1.1 M552.22,157.3 v-1.1 M552.22,3.5 v1.1 M559.03,157.3 v-1.1 M559.03,3.5 v1.1 M564.92,157.3 v-1.1 M564.92,3.5 v1.1 M570.12,157.3 v-1.1 M570.12,3.5 v1.1 M605.38,157.3 v-1.1 M605.38,3.5 v1.1 M623.29,157.3 v-1.1 M623.29,3.5 v1.1 M635.99,157.3 v-1.1 M635.99,3.5 v1.1 M645.84,157.3 v-1.1 M645.84,3.5 v1.1 M653.89,157.3 v-1.1 M653.89,3.5 v1.1 M660.70,157.3 v-1.1 M660.70,3.5 v1.1 M666.60,157.3 v-1.1 M666.60,3.5 v1.1 M671.80,157.3 v-1.1 M671.80,3.5 v1.1" stroke="#a4a4a4" stroke-width="0.6" fill="none"/>
<path d="M676.45,3.5 V157.3 H473.1" fill="none" stroke="#b6b6b6" stroke-width="1" stroke-linecap="square"/>
<path d="M473.1,157.3 V3.5 H676.45" fill="none" stroke="#a0a0a0" stroke-width="1" stroke-linecap="square"/>
<text x="465.26" y="172.30" font-family="'Liberation Sans',Arial,Helvetica,sans-serif" font-size="8.5" fill="#2a2a2a">10<tspan dy="-3.9" font-size="7">-4</tspan></text>
<text x="566.94" y="172.30" font-family="'Liberation Sans',Arial,Helvetica,sans-serif" font-size="8.5" fill="#2a2a2a">10<tspan dy="-3.9" font-size="7">-3</tspan></text>
<text x="668.61" y="172.30" font-family="'Liberation Sans',Arial,Helvetica,sans-serif" font-size="8.5" fill="#2a2a2a">10<tspan dy="-3.9" font-size="7">-2</tspan></text>
<text x="461.9" y="9.55" font-family="'Liberation Sans',Arial,Helvetica,sans-serif" font-size="9.2" fill="#111">c)</text>
<text x="566.88" y="182.30" font-family="'Liberation Serif','Times New Roman',serif" font-size="9" font-style="italic" fill="#555">p<tspan dx="0.3" dy="1.2" font-size="6.6" font-style="normal" letter-spacing="0.3">0−</tspan><tspan font-size="6.8">f</tspan></text>
</g>
<g id="p3">
<line x1="95.27" y1="200.05" x2="95.27" y2="353.45" stroke="#e6e6e6" stroke-width="0.8"/>
<clipPath id="c3"><rect x="27.5" y="200.05" width="203.30" height="153.40"/></clipPath>
<g clip-path="url(#c3)" fill="none" stroke-width="1.25" stroke-linejoin="round">
<path d="M27.3,228.4 C44.2,228.5 105.3,228.9 129.0,229.2 C152.7,229.4 160.8,229.7 169.3,229.9 C177.8,230.1 176.6,230.3 180.0,230.6 C183.4,230.9 186.2,231.1 189.5,231.9 C192.8,232.7 196.5,233.2 199.8,235.2 C203.2,237.2 206.3,240.4 209.6,243.7 C212.9,247.0 216.9,251.7 219.5,254.8 C222.1,258.0 223.1,259.7 225.0,262.6 C226.9,265.5 229.8,270.6 230.8,272.2" stroke="#8163ab" stroke-dasharray="4.5 1.35 2.2 1.35"/>
<path d="M27.3,217.1 L129.0,217.5 L149.2,218.5 L165.3,221.2 L179.4,227.2 L188.5,234.3 L199.6,252.4 L209.6,277.0 L219.7,305.2 L230.7,331.4" stroke="#8163ab"/>
<path d="M27.3,227.2 L29.3,227.2 L31.3,227.1 L33.3,227.1 L35.3,227.1 L37.3,227.1 L39.3,227.1 L41.3,227.1 L43.3,227.1 L45.2,227.1 L47.2,227.1 L49.2,227.1 L51.2,227.1 L53.2,227.1 L55.2,227.1 L57.2,227.1 L59.2,227.1 L61.2,227.1 L63.2,227.2 L65.2,227.2 L67.2,227.2 L69.2,227.2 L71.2,227.2 L73.2,227.2 L75.2,227.3 L77.2,227.3 L79.1,227.3 L81.1,227.3 L83.1,227.4 L85.1,227.4 L87.1,227.4 L89.1,227.4 L91.1,227.5 L93.1,227.5 L95.1,227.5 L97.1,227.6 L99.1,227.6 L101.1,227.6 L103.1,227.6 L105.1,227.7 L107.1,227.7 L109.1,227.7 L111.1,227.8 L113.0,227.8 L115.0,227.8 L117.0,227.9 L119.0,227.9 L121.0,228.0 L123.0,228.0 L125.0,228.0 L127.0,228.1 L129.0,228.1 L131.0,228.1 L133.0,228.2 L135.0,228.2 L137.0,228.3 L139.0,228.3 L141.0,228.5 L143.0,228.6 L145.0,228.8 L146.9,229.1 L148.9,229.4 L150.9,229.9 L152.9,230.4 L154.9,231.0 L156.9,231.7 L158.9,232.5 L160.9,233.5 L162.9,234.6 L164.9,235.9 L166.9,237.3 L168.9,239.0 L170.9,240.9 L172.9,243.0 L174.9,245.4 L176.9,248.1 L178.9,251.0 L180.8,254.3 L182.8,257.8 L184.8,261.7 L186.8,265.8 L188.8,270.1 L190.8,274.6 L192.8,279.2 L194.8,284.0 L196.8,288.8 L198.8,293.6 L200.8,298.4 L202.8,303.2 L204.8,307.9 L206.8,312.5 L208.8,316.9 L210.8,321.1 L212.8,325.1 L214.7,328.8 L216.7,332.2 L218.7,335.3 L220.7,337.9 L222.7,340.2 L224.7,342.0 L226.7,343.3 L228.7,344.0 L230.7,344.2" stroke="#8163ab" stroke-dasharray="5 4.4"/>
<path d="M27.3,244.4 C44.2,244.3 105.3,243.8 129.0,244.0 C152.7,244.2 160.8,245.0 169.3,245.4 C177.8,245.8 176.6,246.0 180.0,246.4 C183.4,246.8 186.2,247.2 189.5,247.8 C192.8,248.4 196.2,248.5 199.6,249.9 C202.9,251.3 206.3,253.8 209.6,256.4 C212.9,259.0 216.9,262.6 219.5,265.3 C222.1,268.0 223.1,269.8 225.0,272.4 C226.9,275.0 229.8,279.6 230.8,281.0" stroke="#43ab93" stroke-dasharray="4.5 1.35 2.2 1.35"/>
<path d="M27.3,229.8 L129.0,230.2 L149.2,231.9 L159.2,234.3 L169.3,238.3 L178.4,243.3 L187.5,256.5 L197.5,277.0 L209.6,305.2 L219.7,330.4 L230.7,342.5" stroke="#43ab93"/>
<path d="M27.3,251.1 L29.3,251.2 L31.3,251.3 L33.3,251.4 L35.3,251.4 L37.3,251.5 L39.3,251.5 L41.3,251.5 L43.3,251.6 L45.2,251.6 L47.2,251.6 L49.2,251.6 L51.2,251.6 L53.2,251.6 L55.2,251.6 L57.2,251.6 L59.2,251.6 L61.2,251.6 L63.2,251.5 L65.2,251.5 L67.2,251.5 L69.2,251.5 L71.2,251.4 L73.2,251.4 L75.2,251.4 L77.2,251.4 L79.1,251.3 L81.1,251.3 L83.1,251.3 L85.1,251.3 L87.1,251.3 L89.1,251.3 L91.1,251.3 L93.1,251.3 L95.1,251.3 L97.1,251.3 L99.1,251.3 L101.1,251.4 L103.1,251.4 L105.1,251.5 L107.1,251.5 L109.1,251.6 L111.1,251.7 L113.0,251.8 L115.0,251.9 L117.0,252.0 L119.0,252.1 L121.0,252.2 L123.0,252.4 L125.0,252.5 L127.0,252.7 L129.0,252.9 L131.0,253.1 L133.0,253.4 L135.0,253.6 L137.0,253.9 L139.0,254.2 L141.0,254.6 L143.0,255.0 L145.0,255.5 L146.9,256.1 L148.9,256.8 L150.9,257.6 L152.9,258.5 L154.9,259.5 L156.9,260.6 L158.9,261.9 L160.9,263.3 L162.9,265.0 L164.9,266.8 L166.9,268.8 L168.9,271.1 L170.9,273.6 L172.9,276.4 L174.9,279.4 L176.9,282.7 L178.9,286.2 L180.8,289.9 L182.8,293.7 L184.8,297.7 L186.8,301.7 L188.8,305.8 L190.8,309.9 L192.8,314.0 L194.8,318.0 L196.8,321.9 L198.8,325.6 L200.8,329.1 L202.8,332.4 L204.8,335.4 L206.8,338.0 L208.8,340.4 L210.8,342.4 L212.8,344.1 L214.7,345.6 L216.7,346.8 L218.7,347.7 L220.7,348.5 L222.7,349.0 L224.7,349.4 L226.7,349.6 L228.7,349.6 L230.7,349.6" stroke="#43ab93" stroke-dasharray="5 4.4"/>
<path d="M27.3,267.1 C30.2,267.1 40.0,266.8 45.0,267.0 C50.0,267.2 53.0,268.0 57.2,268.1 C61.4,268.2 65.0,267.8 70.0,267.6 C75.0,267.4 82.5,266.9 87.5,266.9 C92.5,266.9 96.7,267.4 100.0,267.7 C103.3,268.0 104.3,268.4 107.6,268.5 C110.9,268.6 116.4,268.2 120.0,268.0 C123.6,267.8 124.1,267.2 129.0,267.1 C133.9,267.0 142.5,267.3 149.2,267.5 C155.9,267.7 164.3,268.1 169.3,268.5 C174.3,268.9 176.0,269.5 179.4,270.2 C182.8,270.9 186.1,271.7 189.5,272.6 C192.9,273.5 197.2,274.9 199.6,275.6 C201.9,276.3 201.9,275.9 203.6,277.0 C205.3,278.1 206.9,279.3 209.6,282.0 C212.3,284.7 216.2,287.7 219.7,293.1 C223.2,298.5 228.9,310.8 230.7,314.3" stroke="#73a830" stroke-dasharray="4.5 1.35 2.2 1.35"/>
<path d="M27.3,245.4 L107.6,245.6 L129.0,246.6 L149.2,249.4 L159.2,252.8 L167.3,257.5 L177.4,269.6 L182.4,277.0 L189.5,287.1 L199.6,313.3 L209.6,337.5 L219.7,346.6 L230.7,351.2" stroke="#73a830"/>
<path d="M27.3,308.2 L29.3,308.2 L31.3,308.3 L33.3,308.3 L35.3,308.3 L37.3,308.3 L39.3,308.4 L41.3,308.4 L43.3,308.4 L45.2,308.4 L47.2,308.4 L49.2,308.4 L51.2,308.4 L53.2,308.4 L55.2,308.4 L57.2,308.3 L59.2,308.3 L61.2,308.3 L63.2,308.3 L65.2,308.3 L67.2,308.3 L69.2,308.3 L71.2,308.2 L73.2,308.2 L75.2,308.2 L77.2,308.2 L79.1,308.2 L81.1,308.2 L83.1,308.2 L85.1,308.2 L87.1,308.2 L89.1,308.2 L91.1,308.2 L93.1,308.2 L95.1,308.3 L97.1,308.3 L99.1,308.3 L101.1,308.3 L103.1,308.4 L105.1,308.4 L107.1,308.5 L109.1,308.5 L111.1,308.6 L113.0,308.7 L115.0,308.8 L117.0,308.9 L119.0,309.0 L121.0,309.1 L123.0,309.2 L125.0,309.3 L127.0,309.5 L129.0,309.6 L131.0,309.8 L133.0,309.9 L135.0,310.1 L137.0,310.3 L139.0,310.6 L141.0,310.8 L143.0,311.2 L145.0,311.6 L146.9,312.0 L148.9,312.5 L150.9,313.1 L152.9,313.8 L154.9,314.6 L156.9,315.5 L158.9,316.5 L160.9,317.6 L162.9,318.8 L164.9,320.0 L166.9,321.4 L168.9,322.9 L170.9,324.5 L172.9,326.1 L174.9,327.8 L176.9,329.6 L178.9,331.5 L180.8,333.4 L182.8,335.4 L184.8,337.5 L186.8,339.5 L188.8,341.4 L190.8,343.2 L192.8,344.9 L194.8,346.3 L196.8,347.5 L198.8,348.5 L200.8,349.2 L202.8,349.7 L204.8,350.1 L206.8,350.4 L208.8,350.7 L210.8,350.8 L212.8,351.0 L214.7,351.0 L216.7,351.1 L218.7,351.1 L220.7,351.2 L222.7,351.2 L224.7,351.3 L226.7,351.4 L228.7,351.5 L230.7,351.7" stroke="#73a830" stroke-dasharray="5 4.4"/>
</g>
<path d="M95.27,353.45 v-2.1 M95.27,200.05 v2.1 M163.03,353.45 v-2.1 M163.03,200.05 v2.1 M27.5,322.77 h2.1 M230.8,322.77 h-2.1 M27.5,292.09 h2.1 M230.8,292.09 h-2.1 M27.5,261.41 h2.1 M230.8,261.41 h-2.1 M27.5,230.73 h2.1 M230.8,230.73 h-2.1" stroke="#8c8c8c" stroke-width="0.8" fill="none"/>
<path d="M47.90,353.45 v-1.1 M47.90,200.05 v1.1 M59.83,353.45 v-1.1 M59.83,200.05 v1.1 M68.30,353.45 v-1.1 M68.30,200.05 v1.1 M74.87,353.45 v-1.1 M74.87,200.05 v1.1 M80.23,353.45 v-1.1 M80.23,200.05 v1.1 M84.77,353.45 v-1.1 M84.77,200.05 v1.1 M88.70,353.45 v-1.1 M88.70,200.05 v1.1 M92.17,353.45 v-1.1 M92.17,200.05 v1.1 M115.67,353.45 v-1.1 M115.67,200.05 v1.1 M127.60,353.45 v-1.1 M127.60,200.05 v1.1 M136.07,353.45 v-1.1 M136.07,200.05 v1.1 M142.63,353.45 v-1.1 M142.63,200.05 v1.1 M148.00,353.45 v-1.1 M148.00,200.05 v1.1 M152.54,353.45 v-1.1 M152.54,200.05 v1.1 M156.47,353.45 v-1.1 M156.47,200.05 v1.1 M159.93,353.45 v-1.1 M159.93,200.05 v1.1 M183.43,353.45 v-1.1 M183.43,200.05 v1.1 M195.37,353.45 v-1.1 M195.37,200.05 v1.1 M203.83,353.45 v-1.1 M203.83,200.05 v1.1 M210.40,353.45 v-1.1 M210.40,200.05 v1.1 M215.77,353.45 v-1.1 M215.77,200.05 v1.1 M220.30,353.45 v-1.1 M220.30,200.05 v1.1 M224.23,353.45 v-1.1 M224.23,200.05 v1.1 M227.70,353.45 v-1.1 M227.70,200.05 v1.1" stroke="#a4a4a4" stroke-width="0.6" fill="none"/>
<path d="M230.8,200.05 V353.45 H27.5" fill="none" stroke="#b6b6b6" stroke-width="1" stroke-linecap="square"/>
<path d="M27.5,353.45 V200.05 H230.8" fill="none" stroke="#a0a0a0" stroke-width="1" stroke-linecap="square"/>
<text x="19.66" y="368.45" font-family="'Liberation Sans',Arial,Helvetica,sans-serif" font-size="8.5" fill="#2a2a2a">10<tspan dy="-3.9" font-size="7">-3</tspan></text>
<text x="87.43" y="368.45" font-family="'Liberation Sans',Arial,Helvetica,sans-serif" font-size="8.5" fill="#2a2a2a">10<tspan dy="-3.9" font-size="7">-2</tspan></text>
<text x="155.20" y="368.45" font-family="'Liberation Sans',Arial,Helvetica,sans-serif" font-size="8.5" fill="#2a2a2a">10<tspan dy="-3.9" font-size="7">-1</tspan></text>
<text x="224.13" y="368.45" font-family="'Liberation Sans',Arial,Helvetica,sans-serif" font-size="8.5" fill="#2a2a2a">10<tspan dy="-3.9" font-size="7">0</tspan></text>
<text x="24.5" y="357.30" text-anchor="end" font-family="'Liberation Sans',Arial,Helvetica,sans-serif" font-size="8.5" fill="#2a2a2a">0</text>
<text x="24.5" y="326.62" text-anchor="end" font-family="'Liberation Sans',Arial,Helvetica,sans-serif" font-size="8.5" fill="#2a2a2a">0.2</text>
<text x="24.5" y="295.94" text-anchor="end" font-family="'Liberation Sans',Arial,Helvetica,sans-serif" font-size="8.5" fill="#2a2a2a">0.4</text>
<text x="24.5" y="265.26" text-anchor="end" font-family="'Liberation Sans',Arial,Helvetica,sans-serif" font-size="8.5" fill="#2a2a2a">0.6</text>
<text x="24.5" y="234.58" text-anchor="end" font-family="'Liberation Sans',Arial,Helvetica,sans-serif" font-size="8.5" fill="#2a2a2a">0.8</text>
<text x="24.5" y="203.90" text-anchor="end" font-family="'Liberation Sans',Arial,Helvetica,sans-serif" font-size="8.5" fill="#2a2a2a">1</text>
<text transform="translate(7.8,277.05) rotate(-90)" text-anchor="middle" font-family="'Liberation Serif','Times New Roman',serif" font-size="8.8" letter-spacing="0.16" fill="#444">Fidelity</text>
<text x="1.6" y="206.10" font-family="'Liberation Sans',Arial,Helvetica,sans-serif" font-size="9.2" fill="#111">d)</text>
<text x="129.15" y="378.15" text-anchor="middle" font-family="'Liberation Serif','Times New Roman',serif" font-size="8.8" letter-spacing="0.1" fill="#444">SQGN</text>
</g>
<g id="p4">
<line x1="352.10" y1="200.05" x2="352.10" y2="353.45" stroke="#e6e6e6" stroke-width="0.8"/>
<clipPath id="c4"><rect x="250.45" y="200.05" width="203.30" height="153.40"/></clipPath>
<g clip-path="url(#c4)" fill="none" stroke-width="1.25" stroke-linejoin="round">
<path d="M250.5,220.6 C257.1,220.7 280.3,221.1 290.3,221.4 C300.3,221.7 303.8,222.1 310.5,222.6 C317.2,223.1 325.6,223.9 330.6,224.6 C335.6,225.3 337.1,225.7 340.7,226.6 C344.3,227.5 348.4,228.5 352.0,229.8 C355.6,231.2 358.7,232.8 362.1,234.7 C365.5,236.6 368.9,238.5 372.2,241.3 C375.5,244.1 378.8,247.5 382.2,251.4 C385.6,255.3 389.1,260.2 392.3,264.5 C395.5,268.8 398.0,271.6 401.4,277.0 C404.8,282.4 409.0,291.0 412.5,297.2 C416.0,303.4 419.2,309.3 422.6,314.3 C426.0,319.3 429.2,323.7 432.6,327.4 C436.0,331.1 439.2,334.2 442.7,336.5 C446.2,338.8 451.9,340.3 453.7,341.1" stroke="#8163ab" stroke-dasharray="4.5 1.35 2.2 1.35"/>
<path d="M250.5,217.1 L453.7,217.1" stroke="#8163ab"/>
<path d="M250.5,227.2 L453.7,227.2" stroke="#8163ab" stroke-dasharray="5 4.4"/>
<path d="M250.5,237.3 C257.1,237.3 280.3,237.3 290.3,237.5 C300.3,237.7 303.8,237.8 310.5,238.3 C317.2,238.8 325.6,239.7 330.6,240.3 C335.6,240.9 337.1,241.2 340.7,241.9 C344.3,242.7 348.4,243.6 352.0,244.8 C355.6,246.1 358.7,247.6 362.1,249.4 C365.5,251.2 368.9,253.1 372.2,255.4 C375.5,257.8 378.8,260.5 382.2,263.5 C385.6,266.5 390.1,271.4 392.3,273.6 C394.5,275.9 393.6,274.4 395.3,277.0 C397.0,279.6 399.5,284.1 402.4,289.1 C405.3,294.1 409.1,301.6 412.5,307.2 C415.9,312.8 419.2,318.0 422.6,322.4 C426.0,326.8 429.2,330.6 432.6,333.5 C436.0,336.4 439.2,338.4 442.7,339.9 C446.2,341.4 451.9,342.1 453.7,342.5" stroke="#43ab93" stroke-dasharray="4.5 1.35 2.2 1.35"/>
<path d="M250.5,229.8 L453.7,229.8" stroke="#43ab93"/>
<path d="M250.5,251.4 L453.7,251.4" stroke="#43ab93" stroke-dasharray="5 4.4"/>
<path d="M250.5,258.1 C257.1,258.2 280.3,258.6 290.3,258.9 C300.3,259.2 303.8,259.5 310.5,260.1 C317.2,260.7 325.6,261.8 330.6,262.5 C335.6,263.2 337.1,263.7 340.7,264.5 C344.3,265.3 348.4,266.1 352.0,267.5 C355.6,268.9 359.4,271.0 362.1,272.6 C364.8,274.2 365.4,274.6 368.1,277.0 C370.8,279.4 374.8,283.7 378.2,287.1 C381.6,290.5 385.4,293.5 388.3,297.2 C391.2,300.9 393.0,305.6 395.3,309.3 C397.6,313.0 399.5,315.8 402.4,319.3 C405.3,322.8 409.1,326.9 412.5,330.4 C415.9,333.9 419.2,337.7 422.6,340.5 C426.0,343.3 429.2,345.7 432.6,347.2 C436.0,348.7 439.2,349.0 442.7,349.6 C446.2,350.2 451.9,350.8 453.7,351.0" stroke="#73a830" stroke-dasharray="4.5 1.35 2.2 1.35"/>
<path d="M250.5,245.4 L453.7,245.4" stroke="#73a830"/>
<path d="M250.5,308.3 L453.7,308.3" stroke="#73a830" stroke-dasharray="5 4.4"/>
</g>
<path d="M352.10,353.45 v-2.1 M352.10,200.05 v2.1 M250.45,322.77 h2.1 M453.75,322.77 h-2.1 M250.45,292.09 h2.1 M453.75,292.09 h-2.1 M250.45,261.41 h2.1 M453.75,261.41 h-2.1 M250.45,230.73 h2.1 M453.75,230.73 h-2.1" stroke="#8c8c8c" stroke-width="0.8" fill="none"/>
<path d="M281.05,353.45 v-1.1 M281.05,200.05 v1.1 M298.95,353.45 v-1.1 M298.95,200.05 v1.1 M311.65,353.45 v-1.1 M311.65,200.05 v1.1 M321.50,353.45 v-1.1 M321.50,200.05 v1.1 M329.55,353.45 v-1.1 M329.55,200.05 v1.1 M336.35,353.45 v-1.1 M336.35,200.05 v1.1 M342.25,353.45 v-1.1 M342.25,200.05 v1.1 M347.45,353.45 v-1.1 M347.45,200.05 v1.1 M382.70,353.45 v-1.1 M382.70,200.05 v1.1 M400.60,353.45 v-1.1 M400.60,200.05 v1.1 M413.30,353.45 v-1.1 M413.30,200.05 v1.1 M423.15,353.45 v-1.1 M423.15,200.05 v1.1 M431.20,353.45 v-1.1 M431.20,200.05 v1.1 M438.00,353.45 v-1.1 M438.00,200.05 v1.1 M443.90,353.45 v-1.1 M443.90,200.05 v1.1 M449.10,353.45 v-1.1 M449.10,200.05 v1.1" stroke="#a4a4a4" stroke-width="0.6" fill="none"/>
<path d="M453.75,200.05 V353.45 H250.45" fill="none" stroke="#b6b6b6" stroke-width="1" stroke-linecap="square"/>
<path d="M250.45,353.45 V200.05 H453.75" fill="none" stroke="#a0a0a0" stroke-width="1" stroke-linecap="square"/>
<text x="242.61" y="368.45" font-family="'Liberation Sans',Arial,Helvetica,sans-serif" font-size="8.5" fill="#2a2a2a">10<tspan dy="-3.9" font-size="7">-4</tspan></text>
<text x="344.26" y="368.45" font-family="'Liberation Sans',Arial,Helvetica,sans-serif" font-size="8.5" fill="#2a2a2a">10<tspan dy="-3.9" font-size="7">-3</tspan></text>
<text x="445.91" y="368.45" font-family="'Liberation Sans',Arial,Helvetica,sans-serif" font-size="8.5" fill="#2a2a2a">10<tspan dy="-3.9" font-size="7">-2</tspan></text>
<text x="239.5" y="206.10" font-family="'Liberation Sans',Arial,Helvetica,sans-serif" font-size="9.2" fill="#111">e)</text>
<text x="352.10" y="378.15" text-anchor="middle" font-family="'Liberation Serif','Times New Roman',serif" font-size="8.8" fill="#444">bABN</text>
</g>
<g id="p5">
<clipPath id="c5"><rect x="473.1" y="200.05" width="203.35" height="153.40"/></clipPath>
<g clip-path="url(#c5)" fill="none" stroke-width="1.25" stroke-linejoin="round">
<path d="M473.0,228.8 C474.7,228.7 476.4,228.1 483.1,228.2 C489.8,228.3 506.2,228.9 513.3,229.2 C520.3,229.5 521.4,230.3 525.4,230.2 C529.4,230.1 532.8,228.7 537.5,228.6 C542.2,228.5 548.9,229.4 553.6,229.6 C558.3,229.8 562.1,229.9 565.7,229.8 C569.3,229.7 570.1,228.8 575.0,228.8 C579.9,228.8 589.2,229.3 595.2,229.8 C601.2,230.3 606.6,231.5 611.3,231.7 C616.0,231.9 619.4,230.5 623.4,230.8 C627.4,231.1 630.1,232.2 635.5,233.3 C640.9,234.4 650.6,236.2 655.6,237.3 C660.6,238.4 662.2,238.7 665.7,239.9 C669.2,241.1 674.5,243.7 676.3,244.4" stroke="#8163ab" stroke-dasharray="4.5 1.35 2.2 1.35"/>
<path d="M473.0,216.8 L475.0,216.9 L477.0,217.0 L479.0,217.1 L481.0,217.2 L483.0,217.3 L485.0,217.4 L487.0,217.5 L488.9,217.5 L490.9,217.6 L492.9,217.7 L494.9,217.7 L496.9,217.8 L498.9,217.8 L500.9,217.9 L502.9,217.9 L504.9,218.0 L506.9,218.0 L508.9,218.1 L510.9,218.1 L512.9,218.2 L514.9,218.3 L516.8,218.3 L518.8,218.4 L520.8,218.5 L522.8,218.6 L524.8,218.7 L526.8,218.8 L528.8,218.9 L530.8,219.1 L532.8,219.2 L534.8,219.4 L536.8,219.5 L538.8,219.7 L540.8,219.9 L542.8,220.2 L544.8,220.4 L546.7,220.6 L548.7,220.9 L550.7,221.2 L552.7,221.5 L554.7,221.8 L556.7,222.2 L558.7,222.6 L560.7,223.0 L562.7,223.4 L564.7,223.8 L566.7,224.3 L568.7,224.8 L570.7,225.3 L572.7,225.9 L574.6,226.4 L576.6,227.1 L578.6,227.7 L580.6,228.4 L582.6,229.1 L584.6,229.9 L586.6,230.7 L588.6,231.5 L590.6,232.5 L592.6,233.5 L594.6,234.5 L596.6,235.7 L598.6,236.9 L600.6,238.2 L602.6,239.6 L604.5,241.1 L606.5,242.7 L608.5,244.4 L610.5,246.2 L612.5,248.0 L614.5,250.0 L616.5,252.0 L618.5,254.1 L620.5,256.3 L622.5,258.5 L624.5,260.9 L626.5,263.3 L628.5,265.7 L630.5,268.3 L632.5,270.8 L634.4,273.5 L636.4,276.2 L638.4,278.9 L640.4,281.7 L642.4,284.4 L644.4,287.3 L646.4,290.1 L648.4,292.9 L650.4,295.8 L652.4,298.6 L654.4,301.5 L656.4,304.3 L658.4,307.1 L660.4,309.8 L662.3,312.5 L664.3,315.2 L666.3,317.8 L668.3,320.3 L670.3,322.8 L672.3,325.2 L674.3,327.5 L676.3,329.7" stroke="#8163ab"/>
<path d="M473.0,228.8 L477.0,236.0 L481.1,246.4 L485.1,258.5 L489.1,270.6 L491.5,277.0 L493.2,280.0 L498.2,299.2 L503.2,319.3 L508.3,328.4 L515.3,335.5 L521.4,337.5 L526.4,337.1 L531.5,341.5 L537.5,347.6 L543.6,340.5 L548.6,337.1 L553.6,342.5 L559.7,347.6 L567.8,349.6 L571.8,350.6 L575.0,346.6 L581.0,339.5 L590.1,330.4 L597.2,337.5 L605.2,345.5 L611.3,350.0 L619.4,348.6 L631.5,346.6 L645.6,345.5 L655.6,344.5 L665.7,343.8 L676.3,342.5" stroke="#8163ab" stroke-dasharray="5 4.4"/>
<path d="M473.0,244.8 C478.0,244.7 496.5,243.9 503.2,244.0 C509.9,244.1 508.2,245.3 513.3,245.4 C518.3,245.5 527.8,244.3 533.5,244.4 C539.2,244.5 542.6,245.8 547.6,246.0 C552.6,246.2 559.1,245.5 563.7,245.4 C568.3,245.3 569.8,245.2 575.0,245.4 C580.2,245.6 588.5,246.0 595.2,246.4 C601.9,246.8 608.6,247.3 615.3,248.0 C622.0,248.7 630.5,249.5 635.5,250.4 C640.5,251.3 642.2,252.3 645.6,253.4 C649.0,254.5 652.2,255.5 655.6,256.9 C659.0,258.2 662.2,259.7 665.7,261.5 C669.2,263.3 674.5,266.5 676.3,267.5" stroke="#43ab93" stroke-dasharray="4.5 1.35 2.2 1.35"/>
<path d="M473.0,229.1 L475.0,229.3 L477.0,229.5 L479.0,229.7 L481.0,229.9 L483.0,230.0 L485.0,230.2 L487.0,230.3 L488.9,230.4 L490.9,230.6 L492.9,230.7 L494.9,230.8 L496.9,230.9 L498.9,231.0 L500.9,231.1 L502.9,231.2 L504.9,231.3 L506.9,231.4 L508.9,231.5 L510.9,231.6 L512.9,231.7 L514.9,231.9 L516.8,232.0 L518.8,232.2 L520.8,232.3 L522.8,232.5 L524.8,232.7 L526.8,232.9 L528.8,233.2 L530.8,233.4 L532.8,233.7 L534.8,234.0 L536.8,234.4 L538.8,234.7 L540.8,235.1 L542.8,235.5 L544.8,236.0 L546.7,236.4 L548.7,236.9 L550.7,237.5 L552.7,238.1 L554.7,238.7 L556.7,239.3 L558.7,240.0 L560.7,240.8 L562.7,241.6 L564.7,242.4 L566.7,243.3 L568.7,244.2 L570.7,245.2 L572.7,246.2 L574.6,247.3 L576.6,248.4 L578.6,249.6 L580.6,250.8 L582.6,252.1 L584.6,253.5 L586.6,254.9 L588.6,256.4 L590.6,258.0 L592.6,259.7 L594.6,261.4 L596.6,263.2 L598.6,265.1 L600.6,267.1 L602.6,269.2 L604.5,271.4 L606.5,273.7 L608.5,276.1 L610.5,278.5 L612.5,281.0 L614.5,283.6 L616.5,286.2 L618.5,288.9 L620.5,291.6 L622.5,294.3 L624.5,297.1 L626.5,299.8 L628.5,302.6 L630.5,305.4 L632.5,308.1 L634.4,310.9 L636.4,313.6 L638.4,316.3 L640.4,318.9 L642.4,321.4 L644.4,323.9 L646.4,326.4 L648.4,328.7 L650.4,330.9 L652.4,333.0 L654.4,335.1 L656.4,336.9 L658.4,338.7 L660.4,340.3 L662.3,341.8 L664.3,343.0 L666.3,344.2 L668.3,345.1 L670.3,345.9 L672.3,346.4 L674.3,346.7 L676.3,346.9" stroke="#43ab93"/>
<path d="M473.0,251.4 L477.0,258.5 L481.1,269.6 L483.1,273.6 L484.7,277.0 L489.1,289.1 L493.2,299.2 L498.2,311.3 L503.2,324.4 L508.3,332.4 L513.3,339.5 L519.4,343.1 L525.4,344.5 L531.5,346.2 L539.5,349.6 L547.6,351.6 L561.7,351.6 L575.0,352.0 L595.2,351.6 L601.2,349.6 L607.3,346.6 L613.3,345.5 L619.4,348.0 L631.5,350.0 L676.3,350.0" stroke="#43ab93" stroke-dasharray="5 4.4"/>
<path d="M473.0,267.5 C478.0,267.4 494.8,267.0 503.2,267.1 C511.6,267.2 517.7,267.5 523.4,267.9 C529.1,268.2 532.5,269.3 537.5,269.2 C542.5,269.1 547.4,267.7 553.6,267.5 C559.9,267.3 568.1,267.5 575.0,267.9 C581.9,268.2 588.5,269.0 595.2,269.6 C601.9,270.2 608.6,270.7 615.3,271.6 C622.0,272.5 630.8,274.1 635.5,275.0 C640.2,275.9 640.1,276.2 643.5,277.0 C646.9,277.8 651.9,278.6 655.6,280.0 C659.3,281.4 662.2,283.2 665.7,285.1 C669.2,287.0 674.5,290.4 676.3,291.5" stroke="#73a830" stroke-dasharray="4.5 1.35 2.2 1.35"/>
<path d="M473.0,245.3 L475.0,245.4 L477.0,245.6 L479.0,245.8 L481.0,245.9 L483.0,246.1 L485.0,246.2 L487.0,246.4 L488.9,246.5 L490.9,246.7 L492.9,246.8 L494.9,247.0 L496.9,247.2 L498.9,247.4 L500.9,247.6 L502.9,247.8 L504.9,248.1 L506.9,248.3 L508.9,248.6 L510.9,248.9 L512.9,249.2 L514.9,249.5 L516.8,249.8 L518.8,250.2 L520.8,250.6 L522.8,251.0 L524.8,251.4 L526.8,251.9 L528.8,252.4 L530.8,252.9 L532.8,253.5 L534.8,254.1 L536.8,254.7 L538.8,255.4 L540.8,256.1 L542.8,256.8 L544.8,257.5 L546.7,258.3 L548.7,259.2 L550.7,260.0 L552.7,261.0 L554.7,261.9 L556.7,262.9 L558.7,264.0 L560.7,265.1 L562.7,266.2 L564.7,267.5 L566.7,268.8 L568.7,270.2 L570.7,271.6 L572.7,273.2 L574.6,274.8 L576.6,276.6 L578.6,278.4 L580.6,280.4 L582.6,282.4 L584.6,284.5 L586.6,286.7 L588.6,289.0 L590.6,291.4 L592.6,293.8 L594.6,296.2 L596.6,298.7 L598.6,301.3 L600.6,303.9 L602.6,306.5 L604.5,309.1 L606.5,311.8 L608.5,314.4 L610.5,317.0 L612.5,319.6 L614.5,322.1 L616.5,324.6 L618.5,327.0 L620.5,329.3 L622.5,331.5 L624.5,333.5 L626.5,335.5 L628.5,337.3 L630.5,338.9 L632.5,340.4 L634.4,341.8 L636.4,343.1 L638.4,344.2 L640.4,345.2 L642.4,346.1 L644.4,346.9 L646.4,347.6 L648.4,348.2 L650.4,348.7 L652.4,349.1 L654.4,349.5 L656.4,349.7 L658.4,349.9 L660.4,350.1 L662.3,350.1 L664.3,350.2 L666.3,350.1 L668.3,350.1 L670.3,350.0 L672.3,349.8 L674.3,349.7 L676.3,349.5" stroke="#73a830"/>
<path d="M473.0,308.3 L476.0,317.3 L479.0,327.4 L483.1,335.5 L491.1,341.1 L499.2,345.5 L507.3,348.6 L513.3,350.6 L518.4,349.2 L524.4,345.5 L530.5,347.6 L537.5,352.6 L545.6,352.6 L549.6,351.2 L555.7,347.6 L561.7,348.0 L567.8,350.6 L575.0,352.6 L585.1,351.2 L595.2,352.0 L625.0,351.2 L655.0,351.0 L676.3,350.4" stroke="#73a830" stroke-dasharray="5 4.4"/>
</g>
<path d="M540.88,353.45 v-2.1 M540.88,200.05 v2.1 M608.67,353.45 v-2.1 M608.67,200.05 v2.1 M473.1,322.77 h2.1 M676.45,322.77 h-2.1 M473.1,292.09 h2.1 M676.45,292.09 h-2.1 M473.1,261.41 h2.1 M676.45,261.41 h-2.1 M473.1,230.73 h2.1 M676.45,230.73 h-2.1" stroke="#8c8c8c" stroke-width="0.8" fill="none"/>
<path d="M493.50,353.45 v-1.1 M493.50,200.05 v1.1 M505.44,353.45 v-1.1 M505.44,200.05 v1.1 M513.91,353.45 v-1.1 M513.91,200.05 v1.1 M520.48,353.45 v-1.1 M520.48,200.05 v1.1 M525.85,353.45 v-1.1 M525.85,200.05 v1.1 M530.38,353.45 v-1.1 M530.38,200.05 v1.1 M534.31,353.45 v-1.1 M534.31,200.05 v1.1 M537.78,353.45 v-1.1 M537.78,200.05 v1.1 M561.29,353.45 v-1.1 M561.29,200.05 v1.1 M573.22,353.45 v-1.1 M573.22,200.05 v1.1 M581.69,353.45 v-1.1 M581.69,200.05 v1.1 M588.26,353.45 v-1.1 M588.26,200.05 v1.1 M593.63,353.45 v-1.1 M593.63,200.05 v1.1 M598.17,353.45 v-1.1 M598.17,200.05 v1.1 M602.10,353.45 v-1.1 M602.10,200.05 v1.1 M605.57,353.45 v-1.1 M605.57,200.05 v1.1 M629.07,353.45 v-1.1 M629.07,200.05 v1.1 M641.01,353.45 v-1.1 M641.01,200.05 v1.1 M649.48,353.45 v-1.1 M649.48,200.05 v1.1 M656.05,353.45 v-1.1 M656.05,200.05 v1.1 M661.41,353.45 v-1.1 M661.41,200.05 v1.1 M665.95,353.45 v-1.1 M665.95,200.05 v1.1 M669.88,353.45 v-1.1 M669.88,200.05 v1.1 M673.35,353.45 v-1.1 M673.35,200.05 v1.1" stroke="#a4a4a4" stroke-width="0.6" fill="none"/>
<path d="M676.45,200.05 V353.45 H473.1" fill="none" stroke="#b6b6b6" stroke-width="1" stroke-linecap="square"/>
<path d="M473.1,353.45 V200.05 H676.45" fill="none" stroke="#a0a0a0" stroke-width="1" stroke-linecap="square"/>
<text x="465.26" y="368.45" font-family="'Liberation Sans',Arial,Helvetica,sans-serif" font-size="8.5" fill="#2a2a2a">10<tspan dy="-3.9" font-size="7">-9</tspan></text>
<text x="533.05" y="368.45" font-family="'Liberation Sans',Arial,Helvetica,sans-serif" font-size="8.5" fill="#2a2a2a">10<tspan dy="-3.9" font-size="7">-8</tspan></text>
<text x="600.83" y="368.45" font-family="'Liberation Sans',Arial,Helvetica,sans-serif" font-size="8.5" fill="#2a2a2a">10<tspan dy="-3.9" font-size="7">-7</tspan></text>
<text x="668.61" y="368.45" font-family="'Liberation Sans',Arial,Helvetica,sans-serif" font-size="8.5" fill="#2a2a2a">10<tspan dy="-3.9" font-size="7">-6</tspan></text>
<text x="461.9" y="206.10" font-family="'Liberation Sans',Arial,Helvetica,sans-serif" font-size="9.2" fill="#111">f)</text>
<text x="569.08" y="378.45" font-family="'Liberation Serif','Times New Roman',serif" font-size="9.5" font-style="italic" fill="#555">t<tspan dx="0.8" dy="1.4" font-size="7">R</tspan><tspan dy="0.8" font-size="5">x</tspan></text>
</g>
<g id="legend">
<rect x="254.5" y="125.5" width="193.1" height="27.0" fill="#fff" stroke="#a0a0a0" stroke-width="0.9"/>
<line x1="256.9" y1="130.5" x2="275.2" y2="130.5" stroke="#8163ab" stroke-width="1.25" stroke-dasharray="4.5 1.35 2.2 1.35"/>
<text x="277.0" y="132.8" font-family="'Liberation Serif','Times New Roman',serif" font-size="7.3" textLength="32.0" lengthAdjust="spacing" fill="#3c3c3c">N=4 DQC</text>
<line x1="256.9" y1="139.1" x2="275.2" y2="139.1" stroke="#8163ab" stroke-width="1.25"/>
<text x="277.0" y="141.4" font-family="'Liberation Serif','Times New Roman',serif" font-size="7.3" textLength="39.3" lengthAdjust="spacing" fill="#3c3c3c">N=4 sDQAC</text>
<line x1="256.9" y1="147.7" x2="275.2" y2="147.7" stroke="#8163ab" stroke-width="1.25" stroke-dasharray="5 4.4"/>
<text x="277.0" y="150.0" font-family="'Liberation Serif','Times New Roman',serif" font-size="7.3" textLength="40.3" lengthAdjust="spacing" fill="#3c3c3c">N=4 bDAQC</text>
<line x1="321.1" y1="130.5" x2="339.4" y2="130.5" stroke="#43ab93" stroke-width="1.25" stroke-dasharray="4.5 1.35 2.2 1.35"/>
<text x="341.4" y="132.8" font-family="'Liberation Serif','Times New Roman',serif" font-size="7.3" textLength="32.0" lengthAdjust="spacing" fill="#3c3c3c">N=5 DQC</text>
<line x1="321.1" y1="139.1" x2="339.4" y2="139.1" stroke="#43ab93" stroke-width="1.25"/>
<text x="341.4" y="141.4" font-family="'Liberation Serif','Times New Roman',serif" font-size="7.3" textLength="39.3" lengthAdjust="spacing" fill="#3c3c3c">N=5 sDQAC</text>
<line x1="321.1" y1="147.7" x2="339.4" y2="147.7" stroke="#43ab93" stroke-width="1.25" stroke-dasharray="5 4.4"/>
<text x="341.4" y="150.0" font-family="'Liberation Serif','Times New Roman',serif" font-size="7.3" textLength="40.3" lengthAdjust="spacing" fill="#3c3c3c">N=5 bDAQC</text>
<line x1="385.3" y1="130.5" x2="403.6" y2="130.5" stroke="#73a830" stroke-width="1.25" stroke-dasharray="4.5 1.35 2.2 1.35"/>
<text x="405.7" y="132.8" font-family="'Liberation Serif','Times New Roman',serif" font-size="7.3" textLength="32.0" lengthAdjust="spacing" fill="#3c3c3c">N=6 DQC</text>
<line x1="385.3" y1="139.1" x2="403.6" y2="139.1" stroke="#73a830" stroke-width="1.25"/>
<text x="405.7" y="141.4" font-family="'Liberation Serif','Times New Roman',serif" font-size="7.3" textLength="39.3" lengthAdjust="spacing" fill="#3c3c3c">N=6 sDQAC</text>
<line x1="385.3" y1="147.7" x2="403.6" y2="147.7" stroke="#73a830" stroke-width="1.25" stroke-dasharray="5 4.4"/>
<text x="405.7" y="150.0" font-family="'Liberation Serif','Times New Roman',serif" font-size="7.3" textLength="40.3" lengthAdjust="spacing" fill="#3c3c3c">N=6 bDAQC</text>
</g>
</svg>
</body></html>
